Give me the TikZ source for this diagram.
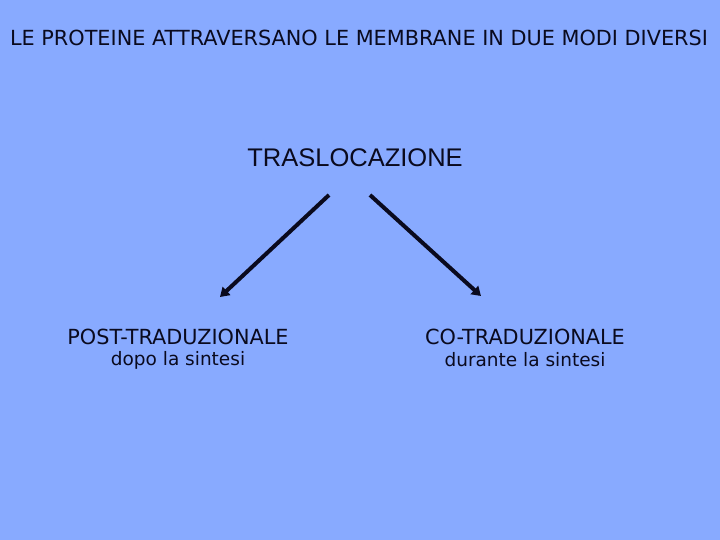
\documentclass[tikz,border=0pt]{standalone}
\usepackage{fontspec}
\setmainfont{DejaVu Sans}
\newfontfamily\arialfont{Liberation Sans}
\usetikzlibrary{arrows.meta}
\definecolor{bg}{RGB}{136,170,255}
\definecolor{ink}{RGB}{10,10,30}
\begin{document}
\begin{tikzpicture}[x=1pt,y=-1pt,
  lbl/.style={inner sep=0pt,text=ink,anchor=center},
  big/.style={font=\fontsize{20.8}{24}\selectfont},
  small/.style={font=\fontsize{18.5}{22}\selectfont},
  arr/.style={draw=ink,line width=4pt,-{Triangle[length=9pt,width=11pt]}}]
\fill[bg] (0,0) rectangle (720,540);
\useasboundingbox (0,0) rectangle (720,540);
\node[lbl,big] (title) at (359,38) {LE PROTEINE ATTRAVERSANO LE MEMBRANE IN DUE MODI DIVERSI};
\node[lbl,font=\arialfont\fontsize{25.5}{30}\selectfont] (trasl) at (355,158) {TRASLOCAZIONE};
\node[lbl,big] (post) at (178,337) {POST-TRADUZIONALE};
\node[lbl,small] (postsub) at (178,360) {dopo la sintesi};
\node[lbl,big] (co) at (525,337) {CO-TRADUZIONALE};
\node[lbl,small] (cosub) at (525,360) {durante la sintesi};
\coordinate (ls) at (329,195);
\coordinate (le) at (220,297);
\coordinate (rs) at (370,195);
\coordinate (re) at (481,296);
\draw[arr] (ls) -- (le);
\draw[arr] (rs) -- (re);
\end{tikzpicture}
\end{document}
